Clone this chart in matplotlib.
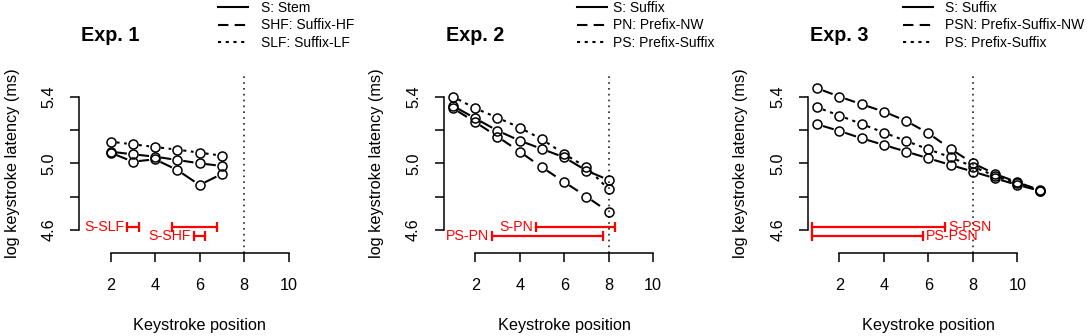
import numpy as np
import matplotlib
matplotlib.use("Agg")
from matplotlib import pyplot as plt
from matplotlib import transforms

plt.rcParams['font.family'] = ['Liberation Sans', 'DejaVu Sans']

# Exp. 1
exp1_x = [2, 3, 4, 5, 6, 7]
exp1_s = [5.064, 5.010, 5.024, 4.960, 4.870, 4.936]
exp1_shf = [5.070, 5.054, 5.040, 5.020, 5.000, 4.984]
exp1_slf = [5.130, 5.114, 5.098, 5.082, 5.064, 5.046]
exp1_labels = ["S: Stem", "SHF: Suffix-HF", "SLF: Suffix-LF"]

# Exp. 2
exp2_x = [1, 2, 3, 4, 5, 6, 7, 8]
exp2_s = [5.345, 5.270, 5.196, 5.136, 5.086, 5.036, 4.956, 4.900]
exp2_pn = [5.330, 5.248, 5.160, 5.070, 4.976, 4.888, 4.800, 4.708]
exp2_ps = [5.400, 5.330, 5.274, 5.214, 5.144, 5.056, 4.976, 4.844]
exp2_labels = ["S: Suffix", "PN: Prefix-NW", "PS: Prefix-Suffix"]

# Exp. 3
exp3_x = [1, 2, 3, 4, 5, 6, 7, 8, 9, 10, 11]
exp3_s = [5.234, 5.194, 5.150, 5.110, 5.070, 5.030, 4.990, 4.950, 4.910, 4.870, 4.836]
exp3_psn = [5.450, 5.400, 5.354, 5.310, 5.254, 5.180, 5.086, 5.000, 4.936, 4.886, 4.840]
exp3_ps = [5.336, 5.286, 5.236, 5.184, 5.134, 5.084, 5.036, 4.980, 4.924, 4.880, 4.836]
exp3_labels = ["S: Suffix", "PSN: Prefix-Suffix-NW", "PS: Prefix-Suffix"]

# significance bars (red)
exp1_bar_start = [2.74, 4.76, 5.73]
exp1_bar_end = [3.26, 6.78, 6.26]
exp1_bar_level = [4.62, 4.62, 4.565]
exp1_bar_text = ["S-SLF", "", "S-SHF"]

exp2_bar_start = [4.75, 2.75]
exp2_bar_end = [8.30, 7.75]
exp2_bar_level = [4.62, 4.565]
exp2_bar_text = ["S-PN", "PS-PN"]

exp3_bar_start = [0.78, 0.78]
exp3_bar_end = [6.74, 5.77]
exp3_bar_level = [4.62, 4.565]
exp3_bar_text = ["S-PSN", "PS-PSN"]

titles = ["Exp. 1", "Exp. 2", "Exp. 3"]

DASHED = (0, (5, 3))
DOTTED = (0, (1.5, 2.2))
LW = 1.5

fig = plt.figure(figsize=(10.87, 3.36), dpi=100)
lefts = [0.0730, 0.4085, 0.7436]
axes = [fig.add_axes([l, 0.2461, 0.2211, 0.5357]) for l in lefts]


def gapped(ax, x, y, ls, gap=6.0):
    # mimic R type="b": line segments stop short of the points
    pts = ax.transData.transform(np.column_stack([x, y]))
    inv = ax.transData.inverted()
    for p0, p1 in zip(pts[:-1], pts[1:]):
        d = p1 - p0
        n = np.hypot(*d)
        if n <= 2 * gap:
            continue
        u = d / n
        seg = inv.transform(np.array([p0 + u * gap, p1 - u * gap]))
        ax.plot(seg[:, 0], seg[:, 1], color='black', lw=LW, linestyle=ls,
                solid_capstyle='butt', dash_capstyle='butt')
    ax.plot(x, y, linestyle='none', marker='o', markersize=6.5,
            markerfacecolor='none', markeredgecolor='black', markeredgewidth=1.1)


panels = [
    (exp1_x, [exp1_s, exp1_shf, exp1_slf], exp1_labels,
     exp1_bar_start, exp1_bar_end, exp1_bar_level, exp1_bar_text, 'left'),
    (exp2_x, [exp2_s, exp2_pn, exp2_ps], exp2_labels,
     exp2_bar_start, exp2_bar_end, exp2_bar_level, exp2_bar_text, 'left'),
    (exp3_x, [exp3_s, exp3_psn, exp3_ps], exp3_labels,
     exp3_bar_start, exp3_bar_end, exp3_bar_level, exp3_bar_text, 'right'),
]
legend_x = [218, 577, 903]
legend_pad = [0.94, 0.43, 0.84]

for i, (ax, panel) in enumerate(zip(axes, panels)):
    xs, series, labels, b0, b1, blev, btxt, side = panel
    ax.set_xlim(0.6, 11.4)
    ax.set_ylim(4.46, 5.54)

    ax.axvline(8, color='#222222', lw=1.2, linestyle=(0, (1, 2.5)))

    for vals, ls in zip(series, ['-', DASHED, DOTTED]):
        gapped(ax, xs, vals, ls)

    for s, e, lev, t in zip(b0, b1, blev, btxt):
        ax.plot([s, e], [lev, lev], color='red', lw=1.6, marker='|',
                markersize=7.5, markeredgewidth=1.6, clip_on=False)
        if t:
            if side == 'left':
                ax.annotate(t, (s, lev), xytext=(-3, 0), textcoords='offset pixels',
                            ha='right', va='center', color='red', fontsize=10.2)
            else:
                ax.annotate(t, (e, lev), xytext=(3, 0), textcoords='offset pixels',
                            ha='left', va='center', color='red', fontsize=10.2)

    # legend
    handles = [plt.Line2D([], [], color='black', lw=LW, linestyle=ls)
               for ls in ['-', DASHED, DOTTED]]
    fig.legend(handles, labels, loc='upper left',
               bbox_to_anchor=(legend_x[i] / 1087, 1 - 1 / 336),
               frameon=False, fontsize=10, handlelength=2.15,
               handletextpad=legend_pad[i], labelspacing=0.25,
               borderpad=0, borderaxespad=0)

    # title
    trans = transforms.blended_transform_factory(ax.transData, ax.transAxes)
    ax.text(2, 1.21, titles[i], transform=trans, ha='center', va='center',
            fontsize=14.2, fontweight='bold')

    for side_name in ['top', 'right']:
        ax.spines[side_name].set_visible(False)
    ax.spines['left'].set_bounds(4.6, 5.4)
    ax.spines['bottom'].set_bounds(2, 10)
    ax.spines['left'].set_linewidth(1.1)
    ax.spines['bottom'].set_linewidth(1.1)

    ax.set_yticks([4.6, 4.8, 5.0, 5.2, 5.4])
    ax.set_yticklabels(["4.6", "", "5.0", "", "5.4"])
    ax.set_xticks([2, 4, 6, 8, 10])
    ax.set_xticklabels(["2", "4", "6", "8", "10"])
    ax.tick_params(axis='both', length=6.5, width=1.1, labelsize=11.7)
    ax.tick_params(axis='x', pad=11)
    ax.tick_params(axis='y', pad=10, labelrotation=90)
    for lab in ax.get_yticklabels():
        lab.set_verticalalignment('center')

    ax.set_xlabel("Keystroke position", fontsize=11.7)
    ax.xaxis.set_label_coords(0.5, -0.40)
    ax.xaxis.label.set_verticalalignment('center')
    ax.set_ylabel("log keystroke latency (ms)", fontsize=11.7)
    ax.yaxis.set_label_coords(-0.28, 0.5)
    ax.yaxis.label.set_verticalalignment('center')

fig.savefig("out.png", dpi=100)
